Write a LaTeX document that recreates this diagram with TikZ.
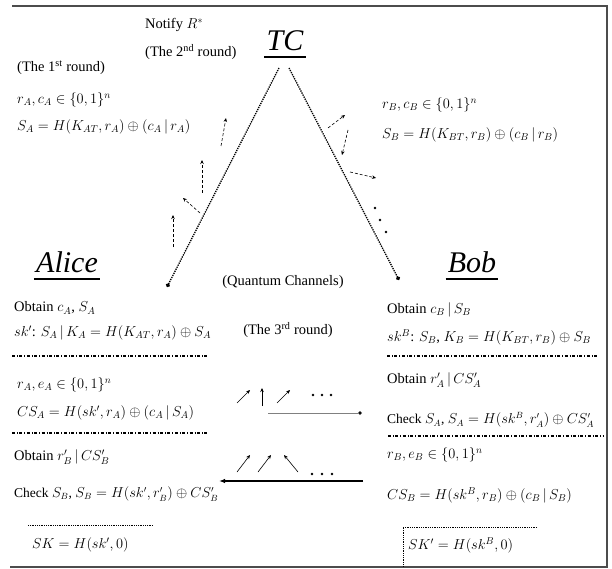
\documentclass[tikz,border=0pt]{standalone}
\usepackage{fontspec}
\setmainfont{Liberation Serif}
\usepackage{amsmath}
\usepackage{amssymb}
\usepackage{tikz}
\usetikzlibrary{positioning, arrows.meta}

\begin{document}
\begin{tikzpicture}[x=1pt, y=-1pt,
    txt/.style={anchor=west, inner sep=0pt, font=\fontsize{14.5}{16}\selectfont},
    chk/.style={txt, font=\fontsize{13.5}{15}\selectfont},
    title/.style={font=\fontsize{30}{32}\selectfont\itshape, inner xsep=2pt, inner ysep=6pt},
    uline/.style={line width=1.6pt},
    channel/.style={densely dotted, line width=1.3pt, -{Circle[length=4pt]}},
    photon/.style={semithick, -{Stealth[length=4pt, width=3.5pt]}},
    dphoton/.style={photon, densely dashed},
    sep/.style={dash dot, line width=1.1pt},
    frame/.style={line width=1.6pt, black!70}]
      \useasboundingbox (0,0) rectangle (612,569);

      % Frame
      \draw[frame] (12,6) -- (607,6) -- (607,567) -- (10,567);

      % Parties
      \node[title] (tc) at (285,41) {TC};
      \node[title] (alice) at (67,262) {Alice};
      \node[title] (bob) at (472,262) {Bob};
      \draw[uline] (tc.south west) -- (tc.south east);
      \draw[uline] (alice.south west) -- (alice.south east);
      \draw[uline] (bob.south west) -- (bob.south east);

      % Channels from TC
      \coordinate (tcL) at (279,68);
      \coordinate (tcR) at (289,68);
      \coordinate (aEnd) at (167,287);
      \coordinate (bEnd) at (399,280);
      \draw[channel] (tcL) -- (aEnd);
      \draw[channel] (tcR) -- (bEnd);

      % Photons to Alice
      \draw[dphoton] (221,146) -- (226,118);
      \draw[dphoton] (202,193) -- (202,160);
      \draw[dphoton] (200,213) -- (183,198);
      \draw[dphoton] (173,247) -- (173,215);
      % Photons to Bob
      \draw[dphoton] (328,128) -- (345,115);
      \draw[dphoton] (348,130) -- (342,155);
      \draw[dphoton] (350,172) -- (376,178);
      \foreach \p in {(375,208),(380,220),(386,232)}
        \fill \p circle (1.3pt);

      % The 1st and 2nd round
      \node[txt] (notify) at (145,25) {Notify $R^{*}$};
      \node[txt] (round2) at (145,52) {(The 2\textsuperscript{nd} round)};
      \node[txt] (round1) at (17,68) {(The 1\textsuperscript{st} round)};
      \node[txt] (aRC) at (17,100) {$r_A, c_A \in \{0,1\}^n$};
      \node[txt] (aS) at (17,127) {$S_A = H(K_{AT}, r_A)\oplus(c_A\,|\,r_A)$};
      \node[txt] (bRC) at (382,105) {$r_B, c_B \in \{0,1\}^n$};
      \node[txt] (bS) at (382,135) {$S_B = H(K_{BT}, r_B)\oplus(c_B\,|\,r_B)$};

      \node[txt, anchor=center] (qch) at (283,282) {(Quantum Channels)};
      \node[txt, anchor=center] (round3) at (288,330) {(The 3\textsuperscript{rd} round)};

      % Alice side
      \node[txt] (aObt) at (14,308) {Obtain $c_A$, $S_A$};
      \node[txt] (aKey) at (14,333) {$sk'$: $S_A\,|\,K_A = H(K_{AT}, r_A)\oplus S_A$};
      \draw[sep] (12,356) -- (208,356);
      \node[txt] (aRE) at (17,385) {$r_A, e_A \in \{0,1\}^n$};
      \node[txt] (aCS) at (17,413) {$CS_A = H(sk', r_A)\oplus(c_A\,|\,S_A)$};
      \draw[sep] (12,433) -- (208,433);
      \node[txt] (aObt2) at (14,457) {Obtain $r'_B\,|\,CS'_B$};
      \node[chk] (aChk) at (14,494) {Check $S_B$, $S_B = H(sk', r'_B)\oplus CS'_B$};
      \node[txt] (aSK) at (32,545) {$SK = H(sk', 0)$};
      \draw[densely dotted, thick] (28,525) -- (153,525);

      % Bob side
      \node[txt] (bObt) at (387,310) {Obtain $c_B\,|\,S_B$};
      \node[txt] (bKey) at (387,337) {$sk^B$: $S_B$, $K_B = H(K_{BT}, r_B)\oplus S_B$};
      \draw[sep] (387,356) -- (598,356);
      \node[txt] (bObt2) at (387,380) {Obtain $r'_A\,|\,CS'_A$};
      \node[chk] (bChk) at (387,420) {Check $S_A$, $S_A = H(sk^B, r'_A)\oplus CS'_A$};
      \draw[sep] (388,436) -- (603,436);
      \node[txt] (bRE) at (387,455) {$r_B, e_B \in \{0,1\}^n$};
      \node[txt] (bCS) at (387,495) {$CS_B = H(sk^B, r_B)\oplus(c_B\,|\,S_B)$};
      \node[txt] (bSK) at (408,545) {$SK' = H(sk^B, 0)$};
      \draw[densely dotted, thick] (537,527) -- (403,527) -- (403,567);

      % The 3rd round photons
      \coordinate (upL) at (268,413);
      \coordinate (upR) at (362,413);
      \draw[black!50, -{Circle[length=4pt, fill=black]}] (upL) -- (upR);
      \draw[photon] (237,403) -- (250,390);
      \draw[photon] (262,406) -- (262,388);
      \draw[photon] (277,403) -- (290,390);
      \foreach \x in {313,322,331}
        \fill (\x,395) circle (1.3pt);
      \coordinate (loR) at (363,481);
      \coordinate (loL) at (219,481);
      \draw[line width=1.2pt, -{Latex[length=6pt]}] (loR) -- (loL);
      \draw[photon] (237,472) -- (250,455);
      \draw[photon] (258,472) -- (271,455);
      \draw[photon] (298,472) -- (284,455);
      \foreach \x in {312,322,332}
        \fill (\x,474) circle (1.3pt);
  \end{tikzpicture}
\end{document}
